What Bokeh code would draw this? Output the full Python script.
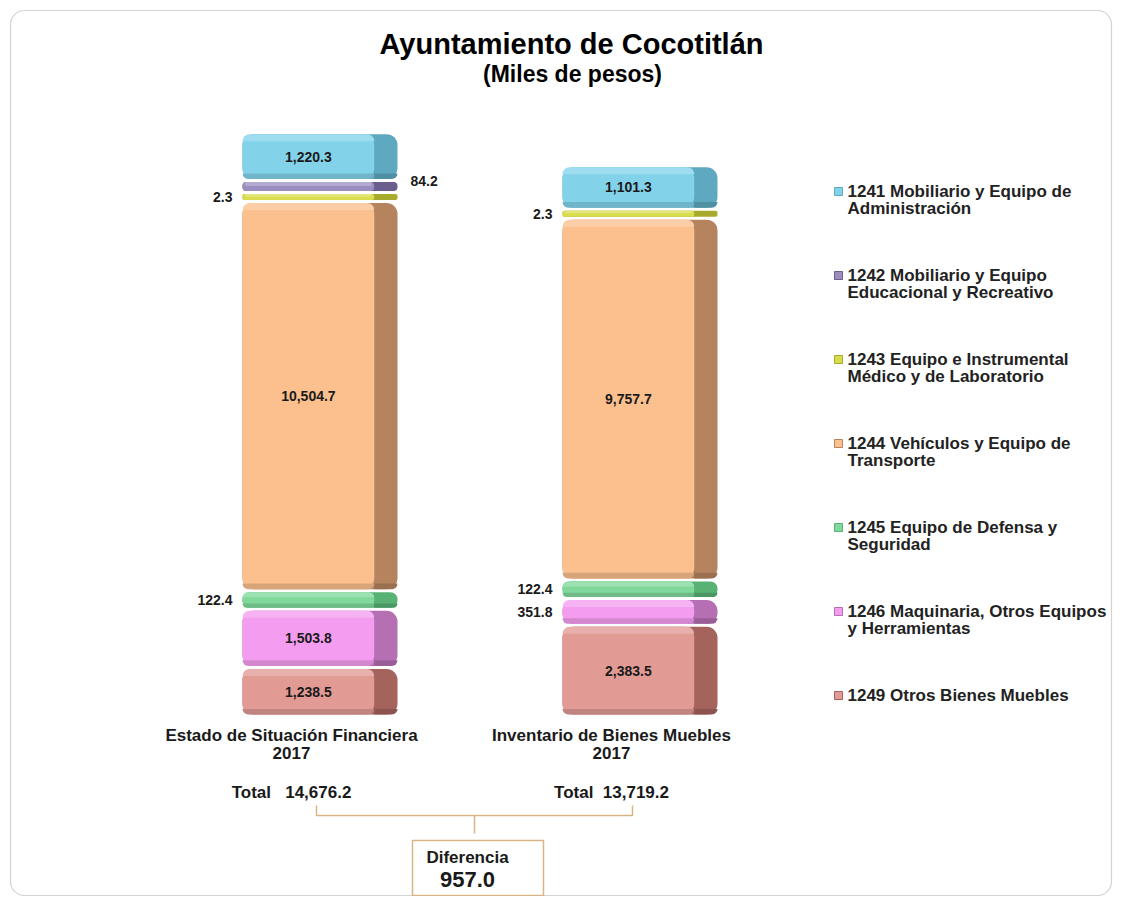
import numpy as np
from bokeh.plotting import figure
from bokeh.models import Range1d, ColumnDataSource, Label
from bokeh.core.properties import value
from bokeh.embed import file_html
from bokeh.resources import INLINE

# ---------------- data ----------------
title = "Ayuntamiento de Cocotitlán"
subtitle = "(Miles de pesos)"
categories = ["Estado de Situación Financiera\n2017", "Inventario de Bienes Muebles\n2017"]
series = [
    "1241 Mobiliario y Equipo de\nAdministración",
    "1242 Mobiliario y Equipo\nEducacional y Recreativo",
    "1243 Equipo e Instrumental\nMédico y de Laboratorio",
    "1244 Vehículos y Equipo de\nTransporte",
    "1245 Equipo de Defensa y\nSeguridad",
    "1246 Maquinaria, Otros Equipos\ny Herramientas",
    "1249 Otros Bienes Muebles",
]
esf_2017 = [1220.3, 84.2, 2.3, 10504.7, 122.4, 1503.8, 1238.5]
ibm_2017 = [1101.3, 0.0, 2.3, 9757.7, 122.4, 351.8, 2383.5]
totals = [14676.2, 13719.2]
total_labels = ["Total\u00a0\u00a0\u00a0", "Total\u00a0\u00a0"]
diff_label = "Diferencia"

front_colors = ["#82d2ea", "#9c8dc0", "#d9dc4c", "#fbc08e", "#80d99b", "#f49df0", "#e29a95"]
side_colors = ["#5ea9c0", "#6b5d8c", "#a8aa2c", "#b5845f", "#58b274", "#b56fb2", "#a5635e"]

FONT = value("Liberation Sans")

# ---------------- layout helpers ----------------
W_PX, H_PX = 1113, 896
S = 27.2            # value units per pixel
BASE = 714          # baseline, canvas px from top
PX_PER_CAT = 320
X0_PX = 319.5
XS = -X0_PX / PX_PER_CAT
XE = XS + W_PX / PX_PER_CAT


def dx(px):
    return XS + px / PX_PER_CAT


def dy(py):
    return (BASE - py) * S


GAP = 3 * S
BAR_W = 155 / PX_PER_CAT
FRONT_FRAC = 0.85


def shown(v):
    if v >= 1000:
        return v
    return v + (300 if v >= 100 else 160)


def mix(c, other, t):
    c = c.lstrip("#"); o = other.lstrip("#")
    a = [int(c[i:i + 2], 16) for i in (0, 2, 4)]
    b = [int(o[i:i + 2], 16) for i in (0, 2, 4)]
    m = [round(a[k] * (1 - t) + b[k] * t) for k in range(3)]
    return "#%02x%02x%02x" % tuple(m)


p = figure(width=W_PX, height=H_PX, x_range=Range1d(XS, XE),
           y_range=Range1d(dy(H_PX), dy(0)), output_backend="svg",
           toolbar_location=None, min_border=0,
           x_axis_location=None, y_axis_location=None)
p.grid.visible = False
p.outline_line_color = None
p.background_fill_color = "white"
p.border_fill_color = "white"

# card
p.quad(left=[dx(10)], right=[dx(1111)], top=[dy(10)], bottom=[dy(895)],
       fill_color="white", line_color="#d3d3d3", line_width=1.2, border_radius=14)

# ---------------- stacked bars ----------------
labels_in = dict(x=[], y=[], t=[])
labels_left = dict(x=[], y=[], t=[])
labels_right = dict(x=[], y=[], t=[])

for ci, vals in enumerate([esf_2017, ibm_2017]):
    y = 0.0
    for si in reversed(range(len(series))):
        v = vals[si]
        if v <= 0:
            continue
        h = shown(v)
        b, t = y, y + h
        y = t + GAP
        hpx = h / S
        r = int(min(11, hpx / 2))
        fx = ci - BAR_W / 2 + BAR_W * FRONT_FRAC / 2
        fw = BAR_W * FRONT_FRAC
        src = ColumnDataSource(dict(x=[ci], fx=[fx], b=[b], t=[t]))
        # side (back)
        p.vbar(x="x", bottom="b", top="t", width=BAR_W, source=src,
               fill_color=side_colors[si], line_color=None, border_radius=r)
        # front face
        p.vbar(x="fx", bottom="b", top="t", width=fw, source=src,
               fill_color=front_colors[si], line_color=None, border_radius=r)
        # bevels
        if hpx > 12:
            bev = min(7, hpx / 3) * S
            p.vbar(x=[fx], bottom=[t - bev], top=[t], width=fw,
                   fill_color=mix(front_colors[si], "#ffffff", 0.22), line_color=None,
                   border_radius=(r, r, 0, 0))
            p.vbar(x=[fx], bottom=[b], top=[b + bev * 0.8], width=fw,
                   fill_color=mix(front_colors[si], "#000000", 0.14), line_color=None,
                   border_radius=(0, 0, r, r))
            p.vbar(x=[ci + BAR_W / 2 - BAR_W * (1 - FRONT_FRAC) / 2], bottom=[b], top=[b + bev * 0.8],
                   width=BAR_W * (1 - FRONT_FRAC),
                   fill_color=mix(side_colors[si], "#000000", 0.15), line_color=None,
                   border_radius=(0, 0, r, 0))
        else:
            p.vbar(x=[fx], bottom=[b + h * 0.55], top=[t], width=fw * 0.96,
                   fill_color=mix(front_colors[si], "#ffffff", 0.25), line_color=None,
                   border_radius=int(max(1, r * 0.45)))
        txt = f"{v:,.1f}"
        mid = (b + t) / 2
        if v >= 1000:
            labels_in["x"].append(fx); labels_in["y"].append(mid); labels_in["t"].append(txt)
        elif si == 1:
            labels_right["x"].append(ci + BAR_W / 2 + 13 / PX_PER_CAT)
            labels_right["y"].append(mid + 5 * S); labels_right["t"].append(txt)
        else:
            labels_left["x"].append(ci - BAR_W / 2 - 10 / PX_PER_CAT)
            labels_left["y"].append(mid); labels_left["t"].append(txt)

for d, align in [(labels_in, "center"), (labels_left, "right"), (labels_right, "left")]:
    p.text(x="x", y="y", text="t", source=ColumnDataSource(d), text_align=align,
           text_baseline="middle", text_font=FONT, text_font_style="bold",
           text_font_size="14px", text_color="#1a1a1a")

# ---------------- titles ----------------
p.add_layout(Label(x=dx(571), y=dy(43), text=title, text_align="center",
                   text_baseline="middle", text_font="Liberation Sans",
                   text_font_style="bold", text_font_size="29px", text_color="#000000"))
p.add_layout(Label(x=dx(572), y=dy(73), text=subtitle, text_align="center",
                   text_baseline="middle", text_font="Liberation Sans",
                   text_font_style="bold", text_font_size="23px", text_color="#000000"))

# ---------------- category labels & totals ----------------
LABEL_SHIFT = -28.5 / PX_PER_CAT
cat_x, cat_y, cat_t = [], [], []
for ci, c in enumerate(categories):
    for li, line in enumerate(c.split("\n")):
        cat_x.append(ci + LABEL_SHIFT); cat_y.append(dy(735 + li * 17)); cat_t.append(line)
p.text(x=cat_x, y=cat_y, text=cat_t, text_align="center", text_baseline="middle",
       text_font=FONT, text_font_style="bold", text_font_size="17px", text_color="#1a1a1a")

tot_x = [ci + LABEL_SHIFT for ci in range(len(totals))]
tot_t = [total_labels[i] + f"{v:,.1f}" for i, v in enumerate(totals)]
p.text(x=tot_x, y=[dy(792)] * len(totals), text=tot_t, text_align="center",
       text_baseline="middle", text_font=FONT, text_font_style="bold",
       text_font_size="17px", text_color="#1a1a1a")

# bracket
BR = "#d9b583"
lx, rx = dx(316), dx(632)
p.line(x=[lx, lx, rx, rx], y=[dy(805), dy(815), dy(815), dy(805)], line_color=BR, line_width=1.5)
p.line(x=[dx(474), dx(474)], y=[dy(815), dy(833)], line_color=BR, line_width=1.5)

# difference box
diff = totals[0] - totals[1]
p.quad(left=[dx(412)], right=[dx(543)], top=[dy(840)], bottom=[dy(895)],
       fill_color="white", line_color=BR, line_width=1.5)
p.add_layout(Label(x=dx(467), y=dy(857), text=diff_label, text_align="center",
                   text_baseline="middle", text_font="Liberation Sans",
                   text_font_style="bold", text_font_size="17px", text_color="#1a1a1a"))
p.add_layout(Label(x=dx(467), y=dy(879), text=f"{diff:,.1f}", text_align="center",
                   text_baseline="middle", text_font="Liberation Sans",
                   text_font_style="bold", text_font_size="22px", text_color="#1a1a1a"))

# ---------------- legend ----------------
LEG_MX, LEG_TX, LEG_Y0, LEG_STEP, LINE_H = 838, 847, 191, 84, 17
mk_x = [dx(LEG_MX)] * len(series)
mk_y = [dy(LEG_Y0 + i * LEG_STEP) for i in range(len(series))]
p.scatter(x=mk_x, y=mk_y, marker="square", size=8, fill_color=front_colors,
          line_color=side_colors, line_width=1)
lg_x, lg_y, lg_t = [], [], []
for i, s in enumerate(series):
    for li, line in enumerate(s.split("\n")):
        lg_x.append(dx(LEG_TX)); lg_y.append(dy(LEG_Y0 + i * LEG_STEP + li * LINE_H)); lg_t.append(line)
p.text(x=lg_x, y=lg_y, text=lg_t, text_align="left", text_baseline="middle",
       text_font=FONT, text_font_style="bold", text_font_size="17px", text_color="#222222")

open("out.html", "w").write(file_html(p, INLINE))
